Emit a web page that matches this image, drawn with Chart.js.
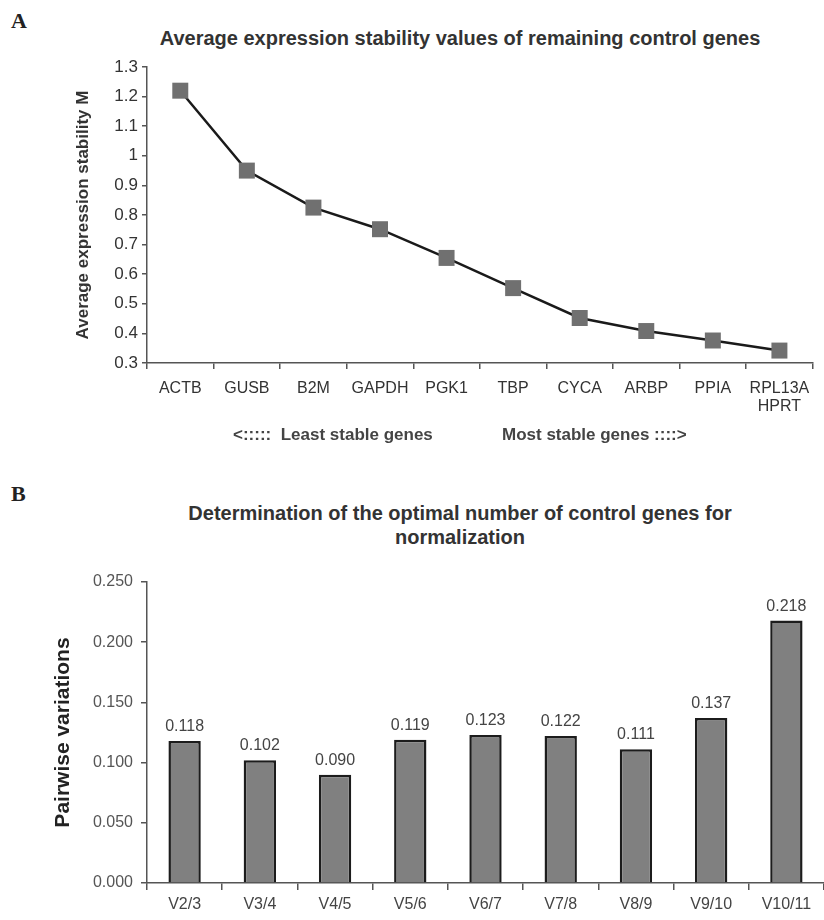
<!DOCTYPE html>
<html>
<head>
<meta charset="utf-8">
<script src="https://cdn.jsdelivr.net/npm/chart.js@4.4.1/dist/chart.umd.min.js"></script>
<style>
  html, body { margin: 0; padding: 0; background: #fff; overflow: hidden; width: 824px; height: 920px; }
  body { position: relative; font-family: "Liberation Sans", Arial, sans-serif; }
  .letter { position: absolute; left: 11px; font-family: "Liberation Serif", "Times New Roman", serif; font-weight: bold; font-size: 22px; line-height: 24px; color: #222; }
  .title { position: absolute; left: 60px; width: 800px; text-align: center; font-weight: bold; font-size: 20px; line-height: 24px; color: #333; }
  .note { position: absolute; top: 425px; font-weight: bold; font-size: 17px; line-height: 20px; color: #444; white-space: pre; }
  canvas { position: absolute; left: 0; }
</style>
</head>
<body>
<div class="letter" style="top:9px">A</div>
<div class="title" style="top:26px">Average expression stability values of remaining control genes</div>
<canvas id="chartA" width="824" height="380" style="top:50px"></canvas>
<div class="note" style="left:233px">&lt;:::::  Least stable genes</div>
<div class="note" style="left:502px">Most stable genes ::::&gt;</div>

<div class="letter" style="top:482px">B</div>
<div class="title" style="top:501px">Determination of the optimal number of control genes for<br>normalization</div>
<canvas id="chartB" width="824" height="360" style="top:560px"></canvas>

<script>
// panel A: geNorm stability
const genes = ['ACTB', 'GUSB', 'B2M', 'GAPDH', 'PGK1', 'TBP', 'CYCA', 'ARBP', 'PPIA', ['RPL13A', 'HPRT']];
const stability = [1.22, 0.95, 0.825, 0.752, 0.655, 0.553, 0.452, 0.408, 0.376, 0.342];
const stabilityTicks = [0.3, 1.3, 0.1]; // min, max, step

// panel B: pairwise variation
const pairs = ['V2/3', 'V3/4', 'V4/5', 'V5/6', 'V6/7', 'V7/8', 'V8/9', 'V9/10', 'V10/11'];
const variations = [0.118, 0.102, 0.090, 0.119, 0.123, 0.122, 0.111, 0.137, 0.218];
const variationTicks = [0, 0.25, 0.05];

Chart.defaults.font.family = '"Liberation Sans", Arial, sans-serif';
Chart.defaults.animation = false;

const valueLabels = {
  id: 'valueLabels',
  afterDatasetsDraw(chart) {
    const ctx = chart.ctx;
    const meta = chart.getDatasetMeta(0);
    ctx.save();
    ctx.font = '16px "Liberation Sans", Arial, sans-serif';
    ctx.fillStyle = '#444';
    ctx.textAlign = 'center';
    ctx.textBaseline = 'alphabetic';
    meta.data.forEach((bar, i) => {
      ctx.fillText(variations[i].toFixed(3), bar.x, bar.y - 10);
    });
    ctx.restore();
  }
};

function stabilityChart(ctx) {
  new Chart(ctx, {
    type: 'line',
    data: {
      labels: genes,
      datasets: [{
        data: stability,
        borderColor: '#1a1a1a',
        borderWidth: 2.5,
        tension: 0,
        pointStyle: 'rect',
        pointRadius: 11.3,
        pointBackgroundColor: '#707070',
        pointBorderWidth: 0,
        clip: false
      }]
    },
    options: {
      responsive: false,
      layout: { padding: { top: 17, right: 0, bottom: 0, left: 0 } },
      plugins: { legend: { display: false }, tooltip: { enabled: false } },
      scales: {
        x: {
          offset: true,
          afterFit: s => { s.height = 67; },
          grid: { offset: true, drawOnChartArea: false, tickLength: 6, color: '#555', lineWidth: 1.5 },
          border: { color: '#555', width: 1.5 },
          ticks: { color: '#333', font: { size: 16, lineHeight: 1.15 }, padding: 10, maxRotation: 0, autoSkip: false }
        },
        y: {
          min: stabilityTicks[0],
          max: stabilityTicks[1],
          afterFit: s => { s.width = 147; },
          grid: { drawOnChartArea: false, tickLength: 5, color: '#555', lineWidth: 1.5 },
          border: { color: '#555', width: 1.5 },
          ticks: { stepSize: stabilityTicks[2], color: '#333', font: { size: 17 }, padding: 4,
                   callback: v => String(+v.toFixed(1)) },
          title: { display: true, text: 'Average expression stability M', color: '#333',
                   font: { size: 17, weight: 'bold', lineHeight: 1.2 }, padding: { top: 73, bottom: 73 } }
        }
      }
    }
  });
}

function variationChart(ctx) {
  new Chart(ctx, {
    type: 'bar',
    data: {
      labels: pairs,
      datasets: [{
        data: variations,
        backgroundColor: '#808080',
        borderColor: '#1c1c1c',
        borderWidth: 2.5,
        barPercentage: 0.43,
        categoryPercentage: 1
      }]
    },
    options: {
      responsive: false,
      layout: { padding: { top: 22, right: 0, bottom: 0, left: 0 } },
      plugins: { legend: { display: false }, tooltip: { enabled: false } },
      scales: {
        x: {
          afterFit: s => { s.height = 37; },
          grid: { offset: true, drawOnChartArea: false, tickLength: 7, color: '#555', lineWidth: 1.5 },
          border: { color: '#555', width: 1.5 },
          ticks: { color: '#444', font: { size: 16 }, padding: 5, maxRotation: 0, autoSkip: false }
        },
        y: {
          min: variationTicks[0],
          max: variationTicks[1],
          afterFit: s => { s.width = 147; },
          grid: { drawOnChartArea: false, tickLength: 6, color: '#555', lineWidth: 1.5 },
          border: { color: '#555', width: 1.5 },
          ticks: { stepSize: variationTicks[2], color: '#555', font: { size: 16 }, padding: 8,
                   callback: v => v.toFixed(3) },
          title: { display: true, text: 'Pairwise variations', color: '#222',
                   font: { size: 21, weight: 'bold', lineHeight: 1.2 }, padding: { top: 51, bottom: 51 } }
        }
      }
    },
    plugins: [valueLabels]
  });
}

function renderCharts() {
  stabilityChart(document.getElementById('chartA').getContext('2d'));
  variationChart(document.getElementById('chartB').getContext('2d'));
}
renderCharts();
</script>
</body>
</html>
